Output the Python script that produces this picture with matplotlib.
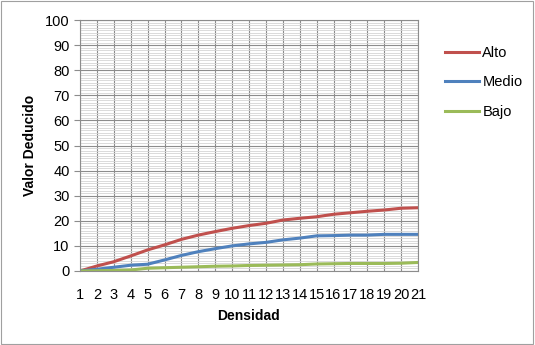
import numpy as np
import matplotlib.pyplot as plt
from matplotlib.ticker import MultipleLocator

# data
densidad = list(range(1, 22))
alto = [0, 2.0, 3.7, 6.0, 8.4, 10.4, 12.6, 14.3, 15.7, 17.0, 18.1,
        19.0, 20.3, 21.0, 21.6, 22.6, 23.2, 23.8, 24.3, 25.0, 25.2]
medio = [0, 0.7, 1.5, 2.3, 2.7, 4.4, 6.2, 7.7, 8.9, 10.0, 10.8,
         11.4, 12.4, 13.1, 14.0, 14.1, 14.3, 14.3, 14.6, 14.6, 14.6]
bajo = [0, 0.1, 0.2, 0.4, 1.1, 1.3, 1.5, 1.7, 1.9, 2.0, 2.2,
        2.3, 2.4, 2.5, 2.8, 2.9, 3.0, 3.0, 3.0, 3.1, 3.4]

plt.rcParams['font.family'] = ['Liberation Sans', 'DejaVu Sans']

fig = plt.figure(figsize=(5.35, 3.45), dpi=100)
ax = fig.add_axes([80 / 535, 1 - 271 / 345, 338 / 535, 251 / 345])

ax.plot(densidad, alto, color='#C0504D', lw=2.2, label='Alto')
ax.plot(densidad, medio, color='#4F81BD', lw=2.2, label='Medio')
ax.plot(densidad, bajo, color='#9BBB59', lw=2.2, label='Bajo')

ax.set_xlim(1, 21)
ax.set_ylim(0, 100)
ax.set_xticks(densidad)
ax.yaxis.set_major_locator(MultipleLocator(10))
ax.yaxis.set_minor_locator(MultipleLocator(1))
ax.grid(which='major', axis='both', color='#8c8c8c', lw=0.8)
ax.grid(which='minor', axis='y', color='#d4d4d4', lw=0.6)
ax.set_axisbelow(True)
ax.tick_params(axis='x', length=0, pad=12, labelsize=10.5)
ax.tick_params(axis='y', which='major', length=4, color='#8c8c8c', labelsize=10.5)
ax.tick_params(axis='y', which='minor', length=0)
for s in ax.spines.values():
    s.set_color('#8c8c8c')

ax.set_xlabel('Densidad', fontweight='bold', fontsize=10, labelpad=5)
ax.set_ylabel('Valor Deducido', fontweight='bold', fontsize=10, labelpad=6)

ax.legend(loc='upper left', bbox_to_anchor=(432 / 535, 1 - 33 / 345),
          bbox_transform=fig.transFigure, frameon=False, fontsize=10.5,
          handlelength=2.3, labelspacing=1.05, handletextpad=0.25)

fig.patches.append(plt.Rectangle((0.002, 0.003), 0.995, 0.994, transform=fig.transFigure,
                                 fill=False, edgecolor='#a0a0a0', lw=0.8))

fig.savefig('out.png', dpi=100)
